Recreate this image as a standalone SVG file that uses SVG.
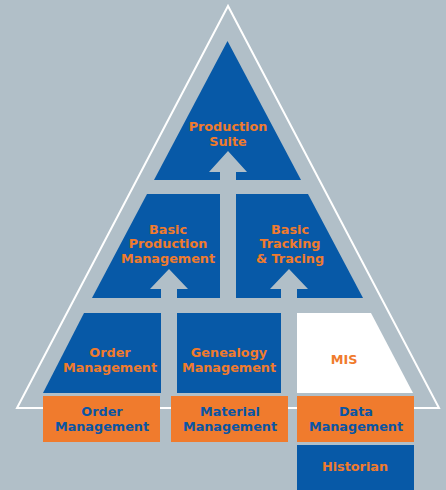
<svg xmlns="http://www.w3.org/2000/svg" width="446" height="490" viewBox="0 0 446 490">
<style>
.bg{fill:#b1bfc8}
.blue{fill:#0759a7}
.white{fill:#ffffff}
.orange{fill:#f07b2d}
.frame{fill:none;stroke:#ffffff;stroke-width:2}
text{font-family:"DejaVu Sans","Liberation Sans",sans-serif;font-weight:bold;font-size:12.8px;text-anchor:middle}
.to{fill:#f07b2d}
.tb{fill:#0a55a3}
.arrow{fill:#b1bfc8}
</style>
<rect class="bg" x="0" y="0" width="446" height="490"/>
<path class="frame" d="M228,6 L17,408 L439,408 Z"/>
<g id="production-suite">
<polygon class="blue" points="227.5,41 154,180 301,180"/>
<text class="to" x="228" y="131">Production</text>
<text class="to" x="228" y="146">Suite</text>
</g>
<g id="basic-production-management">
<polygon class="blue" points="147,194 220,194 220,298 92,298"/>
<text class="to" x="168" y="234">Basic</text>
<text class="to" x="168" y="248">Production</text>
<text class="to" x="168" y="263">Management</text>
</g>
<g id="basic-tracking-tracing">
<polygon class="blue" points="236,194 308,194 363,298 236,298"/>
<text class="to" x="290" y="234">Basic</text>
<text class="to" x="290" y="248">Tracking</text>
<text class="to" x="290" y="263">&amp; Tracing</text>
</g>
<g id="order-management-top">
<polygon class="blue" points="84,313 161,313 161,393 43,393"/>
<text class="to" x="110" y="357">Order</text>
<text class="to" x="110" y="372">Management</text>
</g>
<g id="genealogy-management">
<rect class="blue" x="177" y="313" width="104" height="80"/>
<text class="to" x="229" y="357">Genealogy</text>
<text class="to" x="229" y="372">Management</text>
</g>
<g id="mis">
<polygon class="white" points="297,313 371,313 413,393 297,393"/>
<text class="to" x="344" y="364">MIS</text>
</g>
<g id="order-management">
<rect class="orange" x="43" y="396" width="117" height="46"/>
<text class="tb" x="102" y="416">Order</text>
<text class="tb" x="102" y="431">Management</text>
</g>
<g id="material-management">
<rect class="orange" x="171" y="396" width="117" height="46"/>
<text class="tb" x="230" y="416">Material</text>
<text class="tb" x="230" y="431">Management</text>
</g>
<g id="data-management">
<rect class="orange" x="297" y="396" width="117" height="46"/>
<text class="tb" x="356" y="416">Data</text>
<text class="tb" x="356" y="431">Management</text>
</g>
<g id="historian">
<rect class="blue" x="297" y="445" width="117" height="45"/>
<text class="to" x="355" y="471">Historian</text>
</g>
<g id="connectors">
<polygon class="arrow" points="228,151 247,172 236,172 236,298 220,298 220,172 209,172"/>
<polygon class="arrow" points="169,269 188,289 177,289 177,393 161,393 161,289 150,289"/>
<polygon class="arrow" points="289,269 308,289 297,289 297,393 281,393 281,289 270,289"/>
</g>
</svg>
